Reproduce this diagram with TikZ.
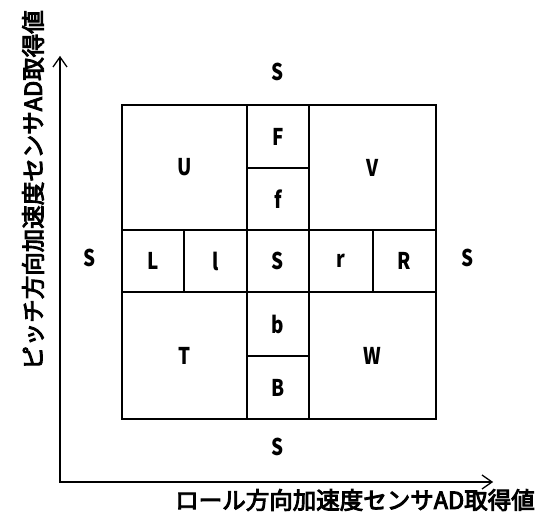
\documentclass[tikz,border=0pt]{standalone}
\usepackage{fontspec}
\setmainfont{Noto Sans CJK JP}
\newfontfamily\narrowfont[FakeStretch=0.82]{Noto Sans CJK JP}
\newfontfamily\labelfont[FakeBold=4]{Noto Sans CJK JP}
\tikzset{
  cell/.style={draw, line width=1.3pt, inner sep=0pt, outer sep=0pt, font=\narrowfont\bfseries\fontsize{23}{23}\selectfont},
  lbl/.style={inner sep=0pt, font=\narrowfont\bfseries\fontsize{23}{23}\selectfont},
  axislbl/.style={inner sep=0pt, font=\labelfont\fontsize{23.5}{23.5}\selectfont},
  axis/.style={line width=1.3pt, line join=miter}
}
\begin{document}
\begin{tikzpicture}[x=1pt,y=-1pt]
\useasboundingbox (0,0) rectangle (552,516);
% cells
\node[cell, minimum width=125pt, minimum height=125pt] (U) at (184.5,167.5) {U};
\node[cell, minimum width=62pt, minimum height=63pt] (F) at (278,136.5) {F};
\node[cell, minimum width=62pt, minimum height=62pt] (f) at (278,199) {f};
\node[cell, minimum width=127pt, minimum height=125pt] (V) at (372.5,167.5) {V};
\node[cell, minimum width=62pt, minimum height=62pt] (L) at (153,261) {L};
\node[cell, minimum width=63pt, minimum height=62pt] (l) at (215.5,261) {l};
\node[cell, minimum width=62pt, minimum height=62pt] (S) at (278,261) {S};
\node[cell, minimum width=64pt, minimum height=62pt] (r) at (341,261) {r};
\node[cell, minimum width=63pt, minimum height=62pt] (R) at (404.5,261) {R};
\node[cell, minimum width=125pt, minimum height=127pt] (T) at (184.5,355.5) {T};
\node[cell, minimum width=62pt, minimum height=64pt] (b) at (278,324) {b};
\node[cell, minimum width=62pt, minimum height=63pt] (B) at (278,387.5) {B};
\node[cell, minimum width=127pt, minimum height=127pt] (W) at (372.5,355.5) {W};
% outer S labels
\node[lbl] (Stop) at (278,72) {S};
\node[lbl] (Sbot) at (278,447) {S};
\node[lbl] (Sleft) at (90,258) {S};
\node[lbl] (Sright) at (468,258) {S};
% axes
\coordinate (ytop) at (60,57);
\coordinate (orig) at (60,482);
\coordinate (xend) at (492,482);
\draw[axis] (ytop) -- (orig) -- (xend);
\draw[axis] (ytop) ++(-7,10) -- (ytop) -- ++(7,10);
\draw[axis] (xend) ++(-10,-7) -- (xend) -- ++(-10,7);
\node[axislbl] (xlab) at (355,500) {ロール方向加速度センサAD取得値};
\node[axislbl, rotate=90] (ylab) at (33,190) {ピッチ方向加速度センサAD取得値};
\end{tikzpicture}
\end{document}
